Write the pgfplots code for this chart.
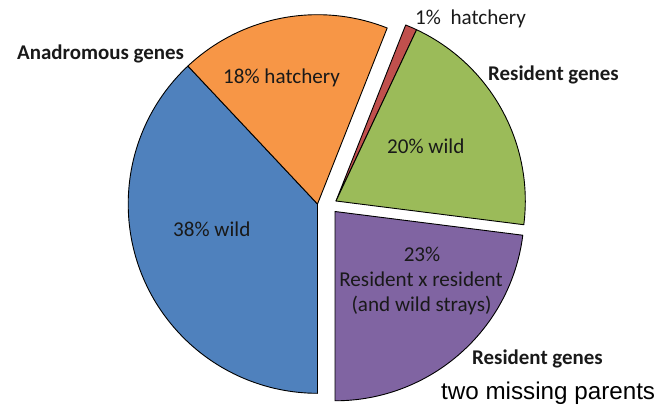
\documentclass[border=0pt]{standalone}
\usepackage{pgfplots}
\pgfplotsset{compat=1.18}
\usepackage{fontspec}
\setmainfont{Carlito}
\newfontfamily\arialfont{Liberation Sans}

\definecolor{sBlue}{HTML}{4F81BD}
\definecolor{sOrange}{HTML}{F79646}
\definecolor{sRed}{HTML}{C0504D}
\definecolor{sGreen}{HTML}{9BBB59}
\definecolor{sPurple}{HTML}{8064A2}

\begin{document}
\begin{tikzpicture}
% shares in percent, clockwise from the bottom
\def\vA{38}% wild, anadromous
\def\vB{18}% hatchery, anadromous
\def\vC{1}% hatchery, resident
\def\vD{20}% wild, resident
\def\vE{23}% resident x resident
\pgfmathsetmacro\aA{270-3.6*\vA}
\pgfmathsetmacro\aB{\aA-3.6*\vB}
\pgfmathsetmacro\aC{\aB-3.6*\vC}
\pgfmathsetmacro\aD{\aC-3.6*\vD}
\pgfmathsetmacro\aE{\aD-3.6*\vE}
\def\R{189.3bp}
\begin{axis}[
    scale only axis,
    width=654bp, height=410bp,
    xmin=0, xmax=654, ymin=0, ymax=410,
    hide axis, clip=false,
]
\tikzset{wedge/.style={draw=black, line width=0.9bp, line join=round}}
% main pie
\fill[wedge, fill=sBlue] (axis cs:317.5,206) -- ++(\aA:\R) arc[start angle=\aA, end angle=270, radius=\R] -- cycle;
\fill[wedge, fill=sOrange] (axis cs:317.5,206) -- ++(\aB:\R) arc[start angle=\aB, end angle=\aA, radius=\R] -- cycle;
% exploded slices
\fill[wedge, fill=sRed] (axis cs:336,209) -- ++(\aC:\R) arc[start angle=\aC, end angle=\aB, radius=\R] -- cycle;
\fill[wedge, fill=sGreen] (axis cs:336,209) -- ++(\aD:\R) arc[start angle=\aD, end angle=\aC, radius=\R] -- cycle;
\fill[wedge, fill=sPurple] (axis cs:335,198.5) -- ++(\aE:\R) arc[start angle=\aE, end angle=\aD, radius=\R] -- cycle;

\tikzset{lab/.style={inner sep=0pt, font=\fontsize{21.2}{25}\selectfont, text=black!90}}
\node[lab, anchor=base west, font=\fontsize{21}{25}\selectfont\bfseries] at (axis cs:17,351) {Anadromous genes};
\node[lab, anchor=base west] at (axis cs:223,327) {18\% hatchery};
\node[lab, anchor=base west] at (axis cs:415,386) {1\%\ \ hatchery};
\node[lab, anchor=base west, font=\fontsize{21}{25}\selectfont\bfseries] at (axis cs:488,330) {Resident genes};
\node[lab, anchor=base west] at (axis cs:387,257) {20\% wild};
\node[lab, anchor=base west] at (axis cs:173,173.3) {38\% wild};
\node[lab, anchor=base] at (axis cs:422,148.5) {23\%};
\node[lab, anchor=base] at (axis cs:421,123.3) {Resident x resident};
\node[lab, anchor=base] at (axis cs:421.5,98.3) {(and wild strays)};
\node[lab, anchor=base west, font=\fontsize{21}{25}\selectfont\bfseries] at (axis cs:472,46) {Resident genes};
\node[inner sep=0pt, anchor=base west, font=\arialfont\fontsize{24.3}{28}\selectfont] at (axis cs:441,11) {two missing parents};
\end{axis}
\pgfresetboundingbox
\path (current axis.south west) rectangle (current axis.north east);
\end{tikzpicture}
\end{document}
